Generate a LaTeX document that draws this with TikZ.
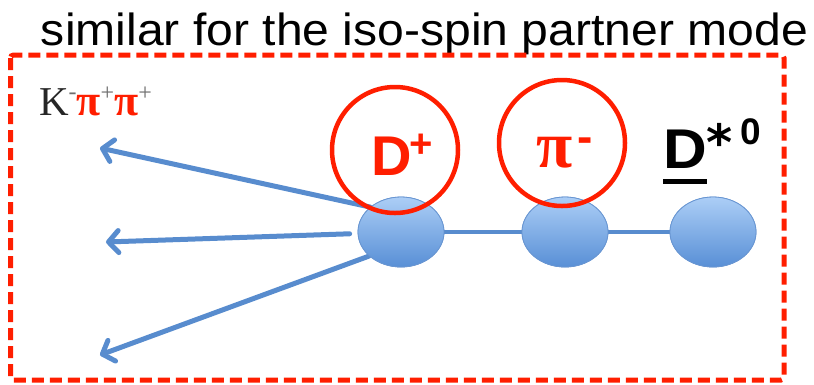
\documentclass[tikz,border=0pt]{standalone}
\usepackage{fontspec}
\setmainfont{Liberation Sans}
\newfontfamily\serifrm{Liberation Serif}
\newfontfamily\dejavu{DejaVu Sans}
\usetikzlibrary{arrows.meta,shapes.geometric}
\definecolor{arrblue}{RGB}{88,140,206}
\definecolor{ellborder}{RGB}{105,150,210}
\definecolor{elltop}{RGB}{172,206,246}
\definecolor{ellbot}{RGB}{88,143,214}
\definecolor{markred}{RGB}{255,30,0}
\definecolor{supgray}{RGB}{110,110,110}
\begin{document}
\begin{tikzpicture}[x=1pt,y=-1pt,
  blob/.style={ellipse, minimum width=86pt, minimum height=70pt, draw=ellborder, line width=0.8pt, top color=elltop, bottom color=ellbot, inner sep=0pt},
  ring/.style={circle, draw=markred, line width=4.5pt, minimum size=126pt, inner sep=0pt},
  decay/.style={draw=arrblue, line width=5pt, line cap=round, -{Straight Barb[length=10pt,width=22pt,round]}},
  link/.style={draw=arrblue, line width=3.2pt},
  txt/.style={anchor=base west, inner sep=0pt, outer sep=0pt}]
\useasboundingbox (0,0) rectangle (814,384);

% title
\node[txt] (title) at (41,45) {\resizebox{767pt}{\height}{\fontsize{45}{45}\selectfont similar for the iso-spin partner mode}};

% dashed frame
\draw[markred, line width=5pt, dash pattern=on 12pt off 6pt, rounded corners=3pt] (10.5,55) rectangle (784,380);

% blobs positions
\coordinate (c1) at (401,232);
\coordinate (c2) at (565,232);
\coordinate (c3) at (713,232);
\node[blob] (b1) at (c1) {};
\node[blob] (b2) at (c2) {};
\node[blob] (b3) at (c3) {};

% decay arrows and links
\coordinate (t1) at (100,148);
\coordinate (t2) at (106,242);
\coordinate (t3) at (100,355);
\draw[decay] (b1.141) -- (t1);
\draw[decay, shorten <=8pt] (b1.182) -- (t2);
\draw[decay] (b1.217) -- (t3);
\draw[link] (b1) -- (b2);
\draw[link] (b2) -- (b3);
% blobs on top of the lines
\node[blob] at (c1) {};
\node[blob] at (c2) {};
\node[blob] at (c3) {};

% rings
\node[ring] (r1) at (395,150) {};
\node[ring] (r2) at (562,143) {};

% labels
\node[txt, text=markred] (dplus) at (371,175) {\bfseries\fontsize{56}{56}\selectfont D};
\node[txt, text=markred] (dplussup) at (409,157) {\bfseries\fontsize{40}{40}\selectfont +};
\node[txt, text=markred] (pim) at (536,167) {\serifrm\bfseries\fontsize{66}{66}\selectfont π};
\node[txt, text=markred] (pimsup) at (577,152) {\bfseries\fontsize{46}{46}\selectfont -};

\node[txt] (dd) at (663,168) {\bfseries\scalebox{1.08}[1]{\fontsize{56}{56}\selectfont D}};
\node[txt] (ast) at (706,160) {\dejavu\bfseries\fontsize{50}{50}\selectfont *};
\node[txt] (zero) at (740,144) {\bfseries\fontsize{37}{37}\selectfont 0};
\draw[line width=5pt] ([yshift=-13pt]dd.base west) -- ([yshift=-13pt]dd.base east);

\node[txt] (kpp) at (39,115) {\serifrm{\color{black!85}\fontsize{41}{41}\selectfont K}\raisebox{16pt}{\color{supgray}\fontsize{24}{24}\selectfont -}{\color{markred}\bfseries\fontsize{44}{44}\selectfont π}\raisebox{15pt}{\color{supgray}\fontsize{24}{24}\selectfont +}{\color{markred}\bfseries\fontsize{44}{44}\selectfont π}\raisebox{15pt}{\color{supgray}\fontsize{24}{24}\selectfont +}};
\end{tikzpicture}
\end{document}
